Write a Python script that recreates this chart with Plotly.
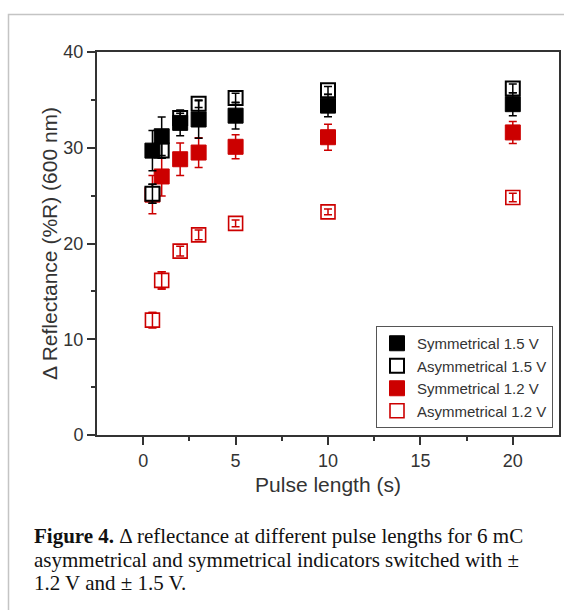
import plotly.graph_objects as go

# ---------------- data ----------------
pulse_length = [0.5, 1, 2, 3, 5, 10, 20]

sym_15 = [29.7, 31.2, 32.6, 32.95, 33.35, 34.4, 34.55]
sym_15_err = [2.1, 2.0, 1.35, 1.95, 1.4, 1.15, 1.2]

asym_15 = [25.2, 29.7, 33.1, 34.6, 35.2, 36.0, 36.2]
asym_15_err = [1.0, 0.8, 0.5, 0.4, 0.5, 0.4, 0.45]

sym_12 = [25.1, 27.0, 28.8, 29.5, 30.1, 31.1, 31.6]
sym_12_err = [2.0, 2.05, 1.7, 1.55, 1.25, 1.35, 1.15]

asym_12 = [12.0, 16.15, 19.2, 20.9, 22.1, 23.3, 24.8]
asym_12_err = [0.8, 0.9, 0.5, 0.5, 0.35, 0.3, 0.45]

x_ticks = [0, 5, 10, 15, 20]
x_minor = [2.5, 7.5, 12.5, 17.5]
y_ticks = [0, 10, 20, 30, 40]
y_minor = [5, 15, 25, 35]

names = ["Symmetrical 1.5 V", "Asymmetrical 1.5 V", "Symmetrical 1.2 V", "Asymmetrical 1.2 V"]
caption_lines = [
    "<b>Figure 4.</b> \u0394 reflectance at different pulse lengths for 6 mC",
    "asymmetrical and symmetrical indicators switched with \u00b1",
    "1.2 V and \u00b1 1.5 V.",
]

BLACK = "#000000"
RED = "#cc0000"
AXIS = "#333333"

# ---------------- layout geometry (pixels) ----------------
W, H = 564, 610
ML, MR, MT, MB = 97, 5, 52, 175
PW, PH = W - ML - MR, H - MT - MB


def px(xp):
    return (xp - ML) / PW


def py(yp):
    return (H - MB - yp) / PH


def err(vals, color):
    return dict(type="data", array=vals, visible=True, color=color, thickness=1.5, width=4)


fig = go.Figure()

# Asymmetrical 1.2 V (hollow red)
fig.add_trace(go.Scatter(
    x=pulse_length, y=asym_12, mode="markers", name=names[3], legendrank=4,
    marker=dict(symbol="square", size=14, color="white", line=dict(color=RED, width=1.6)),
    error_y=err(asym_12_err, RED),
))
# Symmetrical 1.2 V (filled red)
fig.add_trace(go.Scatter(
    x=pulse_length, y=sym_12, mode="markers", name=names[2], legendrank=3,
    marker=dict(symbol="square", size=15, color=RED, line=dict(color=RED, width=1)),
    error_y=err(sym_12_err, RED),
))
# Asymmetrical 1.5 V (hollow black)
fig.add_trace(go.Scatter(
    x=pulse_length, y=asym_15, mode="markers", name=names[1], legendrank=2,
    marker=dict(symbol="square", size=14, color="white", line=dict(color=BLACK, width=2)),
    error_y=err(asym_15_err, BLACK),
))
# Symmetrical 1.5 V (filled black)
fig.add_trace(go.Scatter(
    x=pulse_length, y=sym_15, mode="markers", name=names[0], legendrank=1,
    marker=dict(symbol="square", size=15, color=BLACK, line=dict(color=BLACK, width=1)),
    error_y=err(sym_15_err, BLACK),
))
# error bars drawn over hollow symbols
for yv, ev, c in [(asym_15, asym_15_err, BLACK), (asym_12, asym_12_err, RED)]:
    fig.add_trace(go.Scatter(
        x=pulse_length, y=yv, mode="markers", showlegend=False, hoverinfo="skip",
        marker=dict(size=1, opacity=0),
        error_y=err(ev, c),
    ))

tick_font = dict(family="Liberation Sans, Arial, sans-serif", size=18, color=AXIS)
title_font = dict(family="Liberation Sans, Arial, sans-serif", size=21, color=AXIS)

fig.update_xaxes(
    range=[-2.5, 22.5], tickvals=x_ticks, ticktext=[str(v) for v in x_ticks],
    ticks="outside", ticklen=8, tickwidth=2, tickcolor=AXIS,
    minor=dict(tickvals=x_minor, ticks="outside", ticklen=4, tickwidth=2, tickcolor=AXIS),
    showline=True, linewidth=2, linecolor=AXIS, mirror=True,
    showgrid=False, zeroline=False, tickfont=tick_font,
    title=dict(text="Pulse length (s)", font=title_font, standoff=8),
)
fig.update_yaxes(
    range=[0, 40], tickvals=y_ticks, ticktext=[str(v) for v in y_ticks],
    ticks="outside", ticklen=8, tickwidth=2, tickcolor=AXIS,
    minor=dict(tickvals=y_minor, ticks="outside", ticklen=4, tickwidth=2, tickcolor=AXIS),
    showline=True, linewidth=2, linecolor=AXIS, mirror=True,
    showgrid=False, zeroline=False, tickfont=tick_font,
    title=dict(text="\u0394 Reflectance (%R) (600 nm)", font=title_font, standoff=0),
)

annotations = []
caption_y = [536, 559.5, 583]
for text, yp in zip(caption_lines, caption_y):
    annotations.append(dict(
        text=text, xref="paper", yref="paper", x=px(33), y=py(yp),
        xanchor="left", yanchor="middle", showarrow=False, align="left", borderpad=0,
        font=dict(family="Liberation Serif, Times New Roman, serif", size=21, color="#111111"),
    ))

fig.update_layout(
    width=W, height=H,
    margin=dict(l=ML, r=MR, t=MT, b=MB, autoexpand=False),
    paper_bgcolor="white", plot_bgcolor="white",
    showlegend=True,
    legend=dict(
        x=px(553), y=py(428), xanchor="right", yanchor="bottom",
        bgcolor="white", bordercolor="#555555", borderwidth=1,
        font=dict(family="Liberation Sans, Arial, sans-serif", size=15, color=AXIS),
        tracegroupgap=0,
    ),
    annotations=annotations,
    shapes=[dict(
        type="rect", xref="paper", yref="paper",
        x0=px(8.5), x1=px(575), y0=py(630), y1=py(14.5),
        line=dict(color="#c4c4c4", width=1.5), fillcolor="rgba(0,0,0,0)", layer="below",
    )],
)

fig.write_html("out.html")
